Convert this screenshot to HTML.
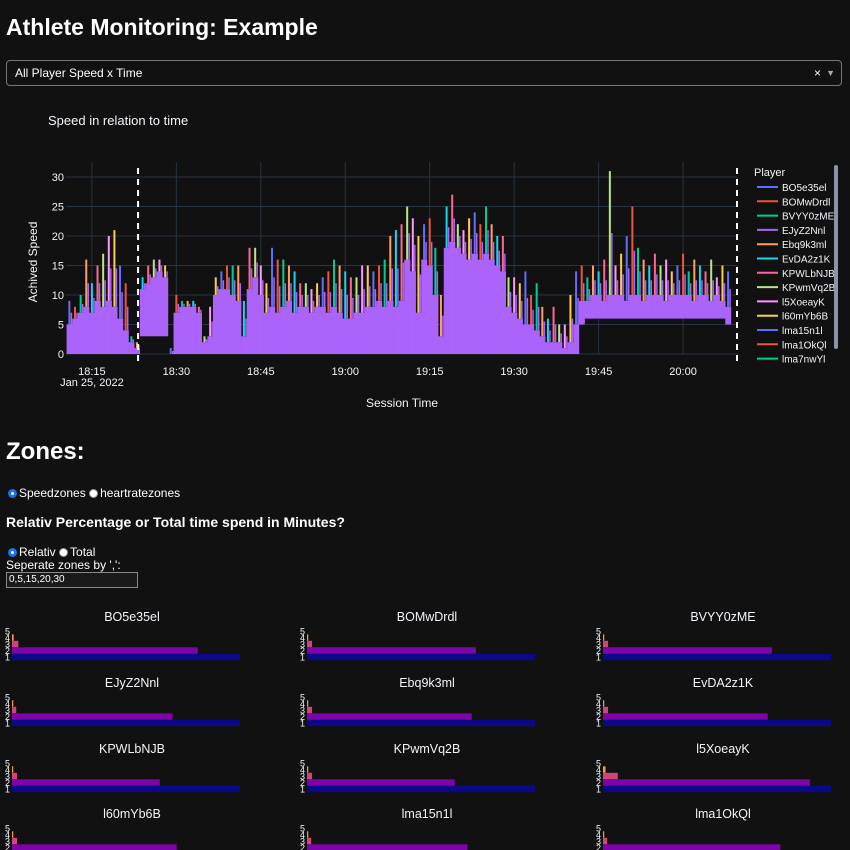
<!DOCTYPE html>
<html><head><meta charset="utf-8">
<style>
body{margin:0;width:850px;height:850px;overflow:hidden;background:#111111;font-family:"Liberation Sans",sans-serif;color:#fff;position:relative}
.abs{position:absolute}
h1{position:absolute;left:6px;top:14px;margin:0;font-size:23px;font-weight:bold}
.sel{left:6px;top:60px;width:836px;height:26px;border:1px solid #777;border-radius:4px;box-sizing:border-box;font-size:12px;line-height:24px;padding-left:8px;background:#111}
.rad{display:inline-block;width:9px;height:9px;border-radius:50%;background:#fff;border:1px solid #999;vertical-align:-1px;margin-right:2px;box-sizing:border-box}
.rad.on{border:3px solid #1a73e8}
</style></head><body>
<h1>Athlete Monitoring: Example</h1>
<div class="abs sel">All Player Speed x Time<span style="position:absolute;right:20px;top:0">×</span><span style="position:absolute;right:6px;top:0;font-size:9px;color:#aaa">▼</span></div>

<svg class="abs" style="left:0;top:95px" width="850" height="320">
<g id="main" transform="translate(0,-95)"></g>
</svg>

<div class="abs" style="left:6px;top:438px;font-size:24px;font-weight:bold">Zones:</div>
<div class="abs" style="left:8px;top:486px;font-size:12px"><span class="rad on"></span>Speedzones <span class="rad"></span>heartratezones</div>
<div class="abs" style="left:6px;top:514px;font-size:14px;font-weight:bold">Relativ Percentage or Total time spend in Minutes?</div>
<div class="abs" style="left:8px;top:545px;font-size:12px"><span class="rad on"></span>Relativ <span class="rad"></span>Total</div>
<div class="abs" style="left:6px;top:558px;font-size:12px">Seperate zones by ',':</div>
<div class="abs" style="left:6px;top:572px;width:132px;height:16px;border:1px solid #888;box-sizing:border-box;font-size:10px;line-height:14px;padding-left:2px;background:#1a1a1a">0,5,15,20,30</div>

<svg class="abs" style="left:0;top:600px" width="850" height="250"><g id="zones" transform="translate(0,-600)"></g></svg>

<script>
// ---- main chart data ----
const startMinute = 11; // minutes after 18:00
const speedBase = [5,6,7,8,7,9,8,9,8,6,4,2,1,11,12,13,14,13,0,7,8,8,8,7,2,3,10,11,11,10,9,3,11,13,10,7,8,7,8,9,7,8,8,7,8,8,7,8,7,6,6,7,7,8,8,9,8,9,8,9,16,14,7,16,15,10,3,18,19,18,17,16,17,16,17,16,15,14,8,7,6,5,5,4,3,2,2,2,1,2,5,9,9,10,10,9,10,10,10,9,10,10,9,10,10,10,9,10,10,10,10,9,10,10,9,10,9,8];
const speedLow = [0,0,0,0,0,0,0,0,0,0,0,0,0,3,3,3,3,3,0,0,0,0,0,0,0,0,0,0,0,0,0,0,0,0,0,0,0,0,0,0,0,0,0,0,0,0,0,0,0,0,0,0,0,0,0,0,0,0,0,0,0,0,0,0,0,0,0,0,0,0,0,0,0,0,0,0,0,0,0,0,0,0,0,0,0,0,0,0,0,0,0,5,6,6,6,6,6,6,6,6,6,6,6,6,6,6,6,6,6,6,6,6,6,6,6,6,6,5];
const speedPeak = [9,8,10,16,12,15,17,20,21,15,12,3,2,13,15,16,16,15,1,10,9,9,9,8,3,8,13,14,15,15,15,9,18,18,15,12,18,16,16,15,14,12,12,11,12,13,14,16,15,14,13,13,15,15,14,15,16,20,21,22,25,23,20,22,23,18,10,25,27,22,21,23,24,22,25,22,20,20,13,13,12,14,10,12,8,6,8,5,5,10,14,15,13,15,14,16,31,15,17,20,25,18,16,15,17,15,16,14,15,17,14,16,15,14,16,13,15,14];
const yTicks = [0,5,10,15,20,25,30];
const xTickMinutes = [15,30,45,60,75,90,105,120];
const xTickLabels = ["18:15","18:30","18:45","19:00","19:15","19:30","19:45","20:00"];
const players = ["BO5e35el","BOMwDrdl","BVYY0zME","EJyZ2Nnl","Ebq9k3ml","EvDA2z1K","KPWLbNJB","KPwmVq2B","l5XoeayK","l60mYb6B","lma15n1l","lma1OkQl","lma7nwYl"];
const palette = ["#636efa","#EF553B","#00cc96","#ab63fa","#FFA15A","#19d3f3","#FF6692","#B6E880","#FF97FF","#FECB52"];

const NS="http://www.w3.org/2000/svg";
function mk(p,tag,attrs,txt){const e=document.createElementNS(NS,tag);for(const k in attrs)e.setAttribute(k,attrs[k]);if(txt!==undefined)e.textContent=txt;p.appendChild(e);return e;}
const X0=66,X1=737,Y0=354,PPM=5.63,PPU=5.9;
const xS=m=>X0+(m-10.4)*PPM;
const yS=v=>Y0-v*PPU;
const g=document.getElementById('main');

let t=mk(g,'text',{x:48,y:125,fill:'#f2f5fa','font-size':13},'Speed in relation to time');


yTicks.forEach(v=>{
 let l=mk(g,'line',{x1:X0,x2:X1,y1:yS(v),y2:yS(v),stroke:'#283442','stroke-width':1});
 
 
 let tt=mk(g,'text',{x:X0-2,y:yS(v)+4,fill:'#f2f5fa','font-size':11,'text-anchor':'end'},String(v));
 
 
});
xTickMinutes.forEach((m,i)=>{
 let l=mk(g,'line',{x1:xS(m),x2:xS(m),y1:162,y2:Y0,stroke:'#283442','stroke-width':1});
 
 
 let tt=mk(g,'text',{x:xS(m),y:375,fill:'#f2f5fa','font-size':11,'text-anchor':'middle'},xTickLabels[i]);
 
 
});
t=mk(g,'text',{x:xS(15),y:386,fill:'#f2f5fa','font-size':11,'text-anchor':'middle'},'Jan 25, 2022');


t=mk(g,'text',{x:402,y:407,fill:'#f2f5fa','font-size':12,'text-anchor':'middle'},'Session Time');


t=mk(g,'text',{x:37,y:262,fill:'#f2f5fa','font-size':12,'text-anchor':'middle',transform:'rotate(-90 37 262)'},'Achived Speed');



speedBase.forEach((v,i)=>{
 const m=startMinute+i;
 let r=mk(g,'rect',{x:xS(m-0.5),width:PPM+0.3,y:yS(v),height:Math.max(0,yS(speedLow[i])-yS(v)),fill:'#ab63fa'});
 
 
});
speedPeak.forEach((v,i)=>{
 const m=startMinute+i;
 const c=palette[[0,1,2,4,5,6,7,8,9][i%9]];
 let l=mk(g,'line',{x1:xS(m),x2:xS(m),y1:yS(v),y2:yS(speedBase[i]),stroke:c,'stroke-width':2});
 
 
 let l2=mk(g,'line',{x1:xS(m)+2,x2:xS(m)+2,y1:yS((v+speedBase[i])/2),y2:yS(speedBase[i]),stroke:'#ab63fa','stroke-width':1.5});
 
 
});
[xS(23.2),X1].forEach(x=>{
 let l=mk(g,'line',{x1:x,x2:x,y1:168,y2:363,stroke:'#fff','stroke-width':2,'stroke-dasharray':'6,5'});
 
 
});
t=mk(g,'text',{x:754,y:176,fill:'#f2f5fa','font-size':11},'Player');


players.forEach((p,i)=>{
 const y=187+i*14.3;
 const gg=mk(g,'g',{});
 
 
 mk(gg,'line',{x1:757,x2:778,y1:y,y2:y,stroke:palette[i%10],'stroke-width':2});
 mk(gg,'text',{x:782,y:y+4,fill:'#f2f5fa','font-size':10},p);
});
let sb=mk(g,'rect',{x:834,y:165,width:4,height:184,rx:2,fill:'#8a93aa'});



// ---- zone charts ----
const zone1 = [54,54,54,54,54,54,54,54,54,54,54,54];
const zone2 = [44,40,40,38,39,39,35,35,49,39,38,42];
const zone3 = [1.5,1.2,1.2,1,1.2,1.2,1.2,1.2,3.5,1.2,1,1];
const zone4 = [0.4,0.3,0.3,0.3,0.3,0.3,0.3,0.3,0.6,0.3,0.3,0.3];
const zone5 = [0,0,0,0,0,0,0,0,0,0,0,0];
const zoneColors=["#0d0887","#7e03a8","#cc4778","#f89540","#f0f921"];
const zg=document.getElementById('zones');
const colX=[12,307,603], rowY=[616,682,748,813];
for(let i=0;i<12;i++){
 const bx=colX[i%3], ty=rowY[Math.floor(i/3)];
 const cg=mk(zg,'g',{});
 
 
 mk(cg,'text',{x:bx+120,y:ty+5,fill:'#f2f5fa','font-size':12.5,'text-anchor':'middle'},players[i]);
 const vals=[zone1[i],zone2[i],zone3[i],zone4[i],zone5[i]];
 const mx=Math.max(...vals);
 vals.forEach((v,k)=>{
  const cy=ty+41-k*6.5;
  let r=mk(cg,'rect',{x:bx,y:cy-3.2,width:v/mx*228,height:6.4,fill:zoneColors[k]});
  
  
  mk(cg,'text',{x:bx-2,y:cy+3.5,fill:'#f2f5fa','font-size':9,'text-anchor':'end'},String(k+1));
 });
}
</script>
</body></html>
